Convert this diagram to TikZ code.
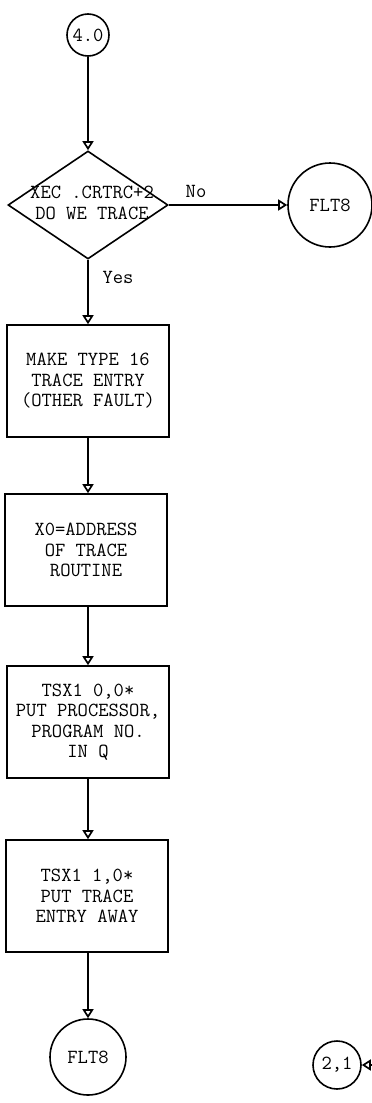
\documentclass[tikz,border=0pt]{standalone}
\usetikzlibrary{arrows.meta,shapes.geometric}
\begin{document}
\begin{tikzpicture}[x=1pt,y=-1pt,
  every node/.style={font=\ttfamily\fontsize{20}{20.5}\selectfont},
  conn/.style={line width=1.7pt,-{Triangle[open,length=9pt,width=11pt,line width=1.7pt]}},
  proc/.style={draw,line width=1.6pt,minimum width=162pt,minimum height=112pt,inner sep=0pt,align=center},
  conncirc/.style={draw,circle,line width=1.6pt,inner sep=0pt},
  lbl/.style={inner sep=0pt}]
\useasboundingbox (0,0) rectangle (372,1103);
\node[conncirc,minimum size=42pt] (c40) at (88,35) {4.0};
\node[draw,diamond,line width=1.6pt,minimum width=160pt,minimum height=108pt,inner sep=0pt] (dec) at (88,205) {};
\node[align=center,inner sep=0pt] (dect) at (92,203) {XEC .CRTRC+2\\DO WE TRACE};
\node[conncirc,minimum size=84pt] (flta) at (330,205) {FLT8};
\node[proc] (b1) at (88,381) {MAKE TYPE 16\\TRACE ENTRY\\(OTHER FAULT)};
\node[proc] (b2) at (86,550) {X0=ADDRESS\\OF TRACE\\ROUTINE};
\node[proc] (b3) at (88,722) {TSX1 0,0*\\PUT PROCESSOR,\\PROGRAM NO.\\IN Q};
\node[proc] (b4) at (87,896) {TSX1 1,0*\\PUT TRACE\\ENTRY AWAY};
\node[conncirc,minimum size=76pt] (fltb) at (88,1057) {FLT8};
\node[conncirc,minimum size=48pt] (c21) at (337,1065) {2,1};
\coordinate (in21) at (372,1065);
\node[lbl] at (118,277) {Yes};
\node[lbl] at (196,191) {No};
\draw[conn] (c40.south) -- (dec.north);
\draw[conn] (dec.east) -- (flta.west);
\draw[conn] (dec.south) -- (dec.south |- b1.north);
\draw[conn] (b1.south) -- (b1.south |- b2.north);
\draw[conn] (b1.south |- b2.south) -- (b1.south |- b3.north);
\draw[conn] (b3.south) -- (b3.south |- b4.north);
\draw[conn] (b3.south |- b4.south) -- (fltb.north);
\draw[conn] (in21) -- (c21.east);
\end{tikzpicture}
\end{document}
